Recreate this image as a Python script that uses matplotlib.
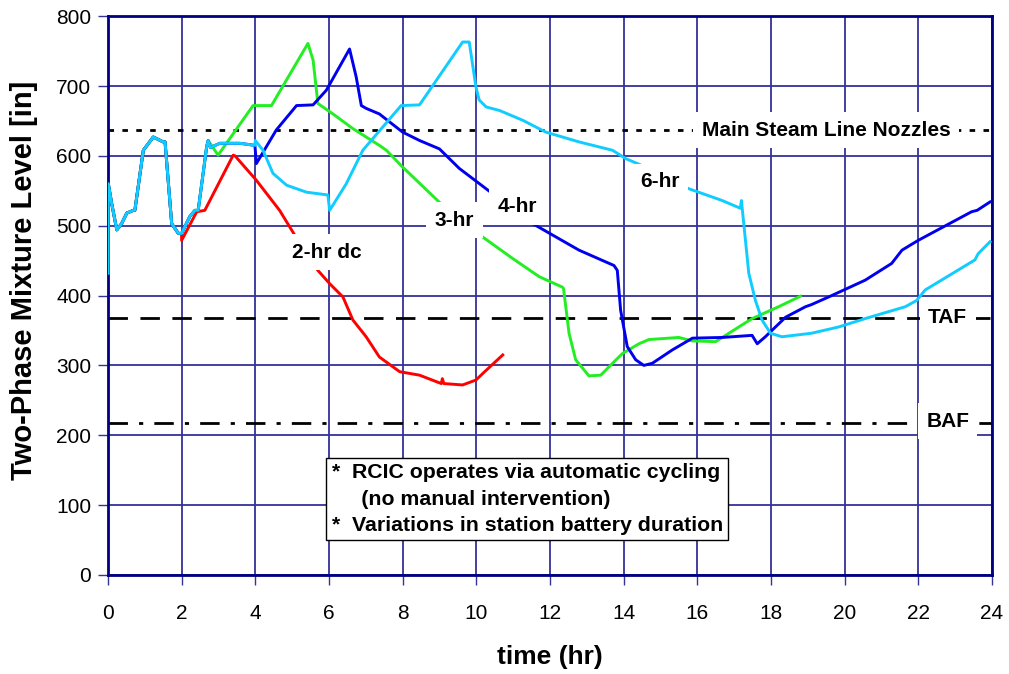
import numpy as np
import matplotlib.pyplot as plt

# ---- data ----
# common early part (all cases identical until ~2 hr)
t_common = [0.0, 0.01, 0.1, 0.24, 0.37, 0.51, 0.69, 0.73, 0.96, 1.23, 1.50, 1.55, 1.73, 1.91, 2.0]
v_common = [432, 560, 532, 494, 503, 518, 522, 522, 608, 627, 620, 620, 503, 489, 489]

# shared by 3/4/6-hr until ~2.7 hr
t_mid = [2.22, 2.36, 2.45, 2.68, 2.72]
v_mid = [513, 522, 522, 613, 622]

# arc shared by 4-hr and 6-hr up to 4 hr
t_arc = [2.78, 3.04, 3.58, 3.99]
v_arc = [612, 618, 618, 615]

t_red = [2.0, 2.41, 2.63, 3.40, 3.45, 4.03, 4.66, 5.02, 5.35, 5.70, 6.02, 6.38, 6.65,
         7.01, 7.37, 7.92, 8.46, 9.05, 9.08, 9.12, 9.63, 9.99, 10.27, 10.72]
v_red = [479, 520, 522, 601, 600, 565, 522, 491, 462, 436, 417, 398, 365,
         341, 312, 291, 286, 274, 281, 274, 272, 279, 293, 315]

t_green = [2.99, 3.94, 4.44, 5.43, 5.57, 5.70, 6.11, 6.65, 7.37, 7.56, 8.0, 8.10, 9.09, 9.6,
           10.17, 10.99, 11.71, 12.34, 12.37, 12.52, 12.70, 13.06, 13.38, 13.70, 13.97,
           14.42, 14.69, 15.5, 15.87, 16.5, 16.77, 17.49, 18.21, 18.8]
v_green = [601, 672, 672, 761, 737, 675, 660, 639, 615, 608, 584, 579, 529, 505,
           484, 453, 427, 412, 410, 346, 308, 285, 286, 303, 317,
           331, 337, 340, 335, 334, 343, 367, 384, 399]

t_blue = [4.03, 4.57, 5.12, 5.57, 5.93, 6.56, 6.74, 6.88, 7.01, 7.37, 8.0, 8.46, 9.0,
          9.54, 10.44, 11.0, 11.53, 12.79, 13.74, 13.83, 13.92, 14.10, 14.33, 14.55,
          14.78, 15.32, 15.87, 16.68, 17.49, 17.63, 17.85, 18.4, 18.94, 19.1, 19.57,
          20.56, 21.28, 21.56, 22.0, 23.45, 23.6, 23.95]
v_blue = [589, 637, 672, 673, 694, 753, 713, 672, 668, 660, 634, 622, 610,
          582, 546, 525, 503, 465, 443, 436, 379, 327, 308, 300,
          303, 322, 339, 340, 343, 331, 341, 369, 384, 387, 398,
          422, 446, 465, 479, 520, 522, 534]

t_cyan = [4.0, 4.21, 4.48, 4.85, 5.39, 5.97, 6.02, 6.47, 6.92, 7.96, 8.46, 9.63, 9.81,
          9.99, 10.08, 10.27, 10.63, 11.26, 11.89, 12.79, 13.70, 14.06, 14.42, 15.1,
          15.77, 16.68, 17.17, 17.20, 17.31, 17.40, 17.58, 17.76, 17.99, 18.3, 19.1,
          19.84, 20.56, 21.65, 21.96, 22.19, 23.54, 23.63, 23.95]
v_cyan = [622, 608, 575, 558, 548, 544, 522, 560, 608, 672, 673, 763, 763,
          699, 680, 670, 665, 651, 634, 620, 608, 596, 588, 570,
          553, 536, 525, 536, 479, 432, 393, 365, 346, 341, 346,
          355, 367, 384, 393, 408, 451, 460, 477]

msl_level = 637
taf_level = 368
baf_level = 217

# ---- build full series ----
red_t = t_common + t_red
red_v = v_common + v_red
green_t = t_common + t_mid + t_green
green_v = v_common + v_mid + v_green
blue_t = t_common + t_mid + t_arc + t_blue
blue_v = v_common + v_mid + v_arc + v_blue
cyan_t = t_common + t_mid + t_arc + t_cyan
cyan_v = v_common + v_mid + v_arc + v_cyan

plt.rcParams['font.family'] = ['Liberation Sans', 'DejaVu Sans']

fig = plt.figure(figsize=(10.09, 6.74), dpi=100)
ax = fig.add_axes([0.107, 0.147, 0.876, 0.829])

navy = '#000080'
grid_c = '#333399'

ax.set_xlim(0, 24)
ax.set_ylim(0, 800)
ax.set_xticks(np.arange(0, 25, 2))
ax.set_yticks(np.arange(0, 801, 100))
ax.grid(True, color=grid_c, linewidth=1.3)
ax.set_axisbelow(True)
for s in ax.spines.values():
    s.set_color(navy)
    s.set_linewidth(2)
ax.tick_params(axis='both', direction='out', length=7, width=1, color=grid_c)
ax.tick_params(axis='y', labelsize=15, pad=5)
ax.tick_params(axis='x', labelsize=15, pad=14)

# reference lines
ax.axhline(msl_level, color='black', linestyle=(0, (2, 3)), linewidth=2, zorder=2)
ax.axhline(taf_level, color='black', linestyle=(0, (7, 4.5)), linewidth=2, zorder=2)
ax.axhline(baf_level, color='black', linestyle=(0, (7, 4, 1.5, 4)), linewidth=2, zorder=2)

lw = 2.1
ax.plot(red_t, red_v, color='#ff0000', linewidth=lw, zorder=3)
ax.plot(green_t, green_v, color='#22ee22', linewidth=lw, zorder=4)
ax.plot(blue_t, blue_v, color='#0000ee', linewidth=lw, zorder=5)
ax.plot(cyan_t, cyan_v, color='#11ccff', linewidth=lw, zorder=6)

lbl = dict(fontsize=15, fontweight='bold', ha='center', va='center', zorder=10,
           bbox=dict(boxstyle='square,pad=0.4', facecolor='white', edgecolor='none'))
ax.text(19.5, msl_level, 'Main Steam Line Nozzles', **lbl)
ax.text(22.8, taf_level, 'TAF', **lbl)
ax.text(22.8, baf_level + 3, 'BAF', **lbl)
ax.text(5.93, 462, '2-hr dc', **lbl)
ax.text(9.41, 508, '3-hr', **lbl)
ax.text(11.12, 527, '4-hr', **lbl)
ax.text(15.0, 563, '6-hr', **lbl)

note = ('*  RCIC operates via automatic cycling\n'
        '     (no manual intervention)\n'
        '*  Variations in station battery duration')
ax.text(6.07, 160, note, fontsize=15.3, fontweight='bold', ha='left', va='top',
        linespacing=1.5, zorder=10,
        bbox=dict(boxstyle='square,pad=0.25', facecolor='white', edgecolor='black', linewidth=1))

ax.set_ylabel('Two-Phase Mixture Level [in]', fontsize=21, fontweight='bold')
ax.yaxis.set_label_coords(-0.079, 0.528)
ax.set_xlabel('time (hr)', fontsize=19, fontweight='bold', labelpad=16)

fig.savefig('out.png', dpi=100)
